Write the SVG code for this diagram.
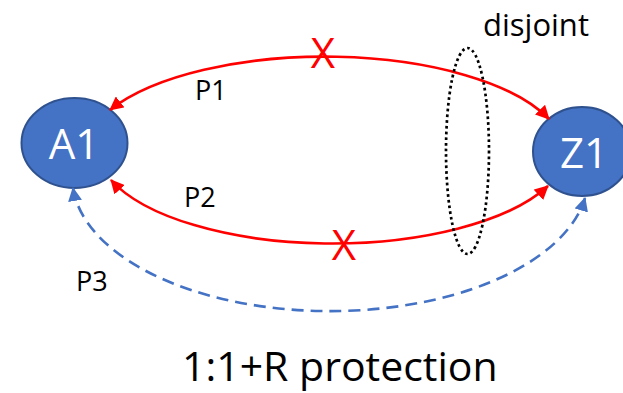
<svg xmlns="http://www.w3.org/2000/svg" width="623" height="393" viewBox="0 0 623 393">
<style>
.t{font-family:"Open Sans","Liberation Sans",sans-serif;fill:#000}
.node{fill:#4472C4;stroke:#2F528F;stroke-width:2}
.nt{font-family:"Open Sans","Liberation Sans",sans-serif;font-size:42px;fill:#fff;text-anchor:middle}
.red{fill:none;stroke:#FF0000;stroke-width:2.6}
.blue{fill:none;stroke:#4472C4;stroke-width:2.6;stroke-dasharray:12 7}
.x{font-family:"Open Sans","Liberation Sans",sans-serif;font-size:42px;fill:#FF0000;text-anchor:middle}
</style>
<defs>
<marker id="ar" viewBox="0 0 14 14" refX="13" refY="7" markerWidth="14" markerHeight="14" markerUnits="userSpaceOnUse" orient="auto-start-reverse"><path d="M0,0 L14,7 L0,14 z" fill="#FF0000"/></marker>
<marker id="ab" viewBox="0 0 14 14" refX="13" refY="7" markerWidth="14" markerHeight="14" markerUnits="userSpaceOnUse" orient="auto-start-reverse"><path d="M0,0 L14,7 L0,14 z" fill="#4472C4"/></marker>
</defs>
<g id="A1"><ellipse class="node" cx="74.5" cy="143" rx="53" ry="45"/><text class="nt" x="74" y="159">A1</text></g>
<g id="Z1"><ellipse class="node" cx="582" cy="151.5" rx="49" ry="44.5"/><text class="nt" x="584" y="168">Z1</text></g>
<g id="connectors">
<path class="red" d="M110,110 A241,98 0 0 1 549,119" marker-start="url(#ar)" marker-end="url(#ar)"/>
<path class="red" d="M111,180 A236,97 0 0 0 548,186" marker-start="url(#ar)" marker-end="url(#ar)"/>
<path class="blue" d="M73,188 A258,134 0 0 0 585,198" marker-start="url(#ab)" marker-end="url(#ab)"/>
</g>
<g id="disjoint"><ellipse cx="467.5" cy="151" rx="21.5" ry="103" fill="none" stroke="#000" stroke-width="2.7" stroke-dasharray="2.7 3"/></g>
<text class="x" x="323" y="68">X</text>
<text class="x" x="344" y="260">X</text>
<text class="t" x="483" y="36" font-size="31">disjoint</text>
<text class="t" x="195" y="100" font-size="27">P1</text>
<text class="t" x="184" y="207" font-size="27">P2</text>
<text class="t" x="76" y="291" font-size="27">P3</text>
<text class="t" x="182" y="381" font-size="41">1:1+R protection</text>
</svg>
